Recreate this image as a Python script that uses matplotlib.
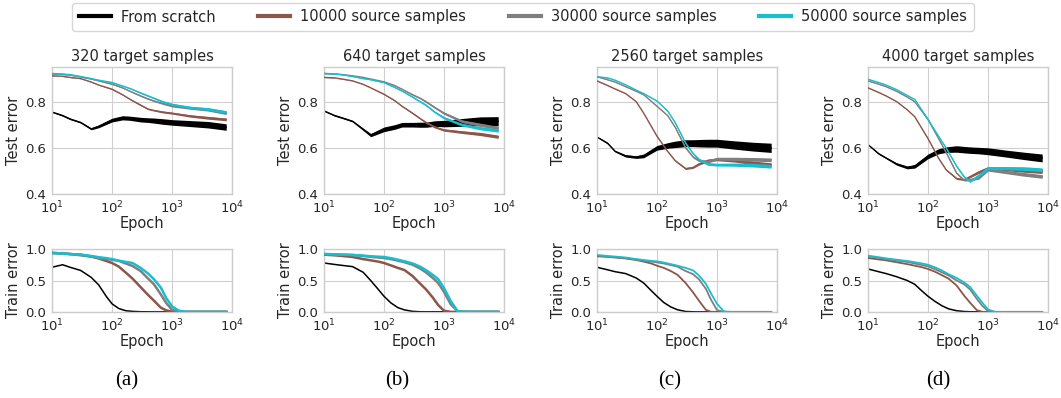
import numpy as np
import matplotlib
matplotlib.use("Agg")
import matplotlib.pyplot as plt
from matplotlib.lines import Line2D

# ---------------- data ----------------
panel_titles = ["320 target samples", "640 target samples", "2560 target samples", "4000 target samples"]
panel_letters = ["(a)", "(b)", "(c)", "(d)"]
series_labels = ["From scratch", "10000 source samples", "30000 source samples", "50000 source samples"]

epochs_test = [10, 15, 20, 30, 45, 60, 100, 150, 200, 300, 400, 500, 700, 1000, 2000, 4000, 8000]

test_320_scratch = [.755, .74, .725, .71, .682, .693, .72, .73, .728, .722, .72, .718, .714, .71, .705, .70, .69]
test_320_10k = [.912, .91, .905, .90, .885, .872, .854, .83, .81, .785, .768, .762, .755, .75, .738, .73, .723]
test_320_30k = [.92, .918, .915, .907, .898, .89, .876, .86, .845, .825, .812, .803, .792, .781, .772, .765, .75]
test_320_50k = [.922, .92, .917, .909, .90, .893, .883, .868, .857, .838, .825, .815, .80, .788, .775, .768, .755]

test_640_scratch = [.76, .74, .73, .715, .68, .655, .68, .69, .70, .70, .70, .70, .705, .705, .71, .715, .715]
test_640_10k = [.905, .903, .898, .89, .875, .86, .832, .805, .78, .75, .727, .71, .69, .677, .668, .66, .648]
test_640_30k = [.922, .92, .917, .912, .905, .898, .886, .87, .854, .83, .815, .80, .775, .75, .715, .70, .686]
test_640_50k = [.922, .92, .917, .909, .90, .895, .883, .862, .846, .82, .80, .785, .755, .73, .70, .685, .675]

test_2560_scratch = [.647, .62, .585, .565, .56, .565, .60, .61, .615, .62, .62, .62, .62, .62, .612, .605, .60]
test_2560_10k = [.89, .87, .855, .835, .80, .75, .65, .585, .545, .51, .515, .53, .545, .55, .545, .535, .527]
test_2560_30k = [.908, .895, .885, .865, .845, .83, .78, .74, .69, .60, .56, .545, .54, .553, .552, .55, .548]
test_2560_50k = [.908, .903, .893, .873, .85, .835, .803, .76, .71, .62, .575, .55, .53, .527, .527, .525, .52]

test_4000_scratch = [.614, .575, .556, .53, .515, .52, .563, .585, .592, .595, .592, .59, .588, .585, .575, .565, .556]
test_4000_10k = [.86, .84, .825, .80, .765, .735, .64, .555, .505, .467, .462, .475, .495, .512, .508, .502, .497]
test_4000_30k = [.89, .876, .865, .845, .82, .80, .723, .64, .58, .49, .46, .462, .47, .505, .495, .485, .476]
test_4000_50k = [.897, .883, .872, .852, .827, .81, .723, .65, .60, .52, .475, .455, .48, .512, .512, .51, .505]

# half-width of the visible noise band of each test curve
noise_scratch_320 = [.002, .003, .003, .003, .004, .006, .008, .009, .009, .010, .010, .011, .012, .012, .013, .014, .014]
noise_scratch_640 = [.002, .003, .003, .003, .005, .007, .010, .010, .010, .010, .011, .011, .012, .014, .017, .019, .02]
noise_scratch_2560 = [.002, .003, .003, .005, .006, .008, .010, .012, .014, .015, .015, .016, .017, .017, .018, .019, .02]
noise_scratch_4000 = [.002, .003, .003, .005, .006, .008, .010, .011, .012, .014, .014, .014, .014, .015, .015, .016, .017]
noise_transfer_320 = [.001, .001, .001, .001, .001, .001, .002, .002, .002, .003, .003, .003, .004, .004, .005, .006, .006]
noise_transfer_640 = [.001, .001, .001, .001, .001, .001, .002, .002, .002, .003, .003, .004, .004, .005, .006, .007, .007]
noise_transfer_2560 = [.001, .001, .001, .001, .001, .001, .002, .002, .003, .004, .004, .005, .006, .006, .007, .008, .008]
noise_transfer_4000 = [.001, .001, .001, .001, .001, .001, .002, .002, .003, .004, .004, .005, .006, .006, .007, .008, .008]

epochs_train = [10, 15, 20, 30, 45, 60, 80, 100, 130, 170, 220, 300, 400, 500, 650, 800, 1000, 1300, 1700, 2500, 8000]

train_320_scratch = [.71, .75, .71, .66, .55, .43, .25, .13, .055, .02, .01, .004, .003, .002, .002, .002, .002, .002, .002, .003, .002]
train_320_10k = [.937, .93, .92, .91, .88, .85, .81, .778, .72, .625, .53, .395, .27, .18, .07, .026, .005, .002, .002, .002, .002]
train_320_30k = [.937, .93, .92, .90, .88, .86, .84, .83, .81, .77, .73, .65, .53, .44, .28, .143, .035, .003, .002, .002, .002]
train_320_50k = [.937, .93, .92, .91, .89, .87, .855, .84, .815, .795, .778, .70, .61, .52, .39, .222, .09, .02, .003, .002, .002]

train_640_scratch = [.778, .755, .74, .72, .63, .50, .36, .25, .145, .07, .033, .01, .004, .003, .003, .003, .003, .003, .003, .003, .003]
train_640_10k = [.91, .90, .89, .873, .84, .82, .80, .778, .74, .70, .665, .57, .45, .36, .23, .11, .02, .002, .002, .002, .002]
train_640_30k = [.92, .915, .91, .905, .89, .875, .865, .857, .84, .815, .79, .75, .69, .63, .54, .46, .32, .12, .01, .002, .002]
train_640_50k = [.92, .915, .91, .905, .895, .885, .878, .873, .855, .83, .805, .77, .72, .665, .59, .52, .38, .17, .01, .003, .002]

train_2560_scratch = [.71, .67, .64, .61, .54, .46, .34, .25, .15, .08, .035, .008, .003, .002, .002, .002, .002, .002, .002, .002, .002]
train_2560_10k = [.884, .875, .865, .85, .825, .80, .77, .735, .70, .65, .59, .46, .31, .18, .035, .003, .002, .002, .002, .002, .002]
train_2560_30k = [.894, .88, .87, .855, .835, .815, .80, .788, .77, .745, .72, .65, .60, .52, .37, .19, .03, .002, .002, .002, .002]
train_2560_50k = [.905, .89, .88, .865, .84, .825, .812, .804, .785, .76, .735, .70, .66, .58, .45, .29, .13, .01, .002, .002, .002]

train_4000_scratch = [.683, .64, .61, .56, .50, .44, .33, .25, .17, .10, .05, .02, .008, .004, .003, .002, .002, .002, .002, .002, .002]
train_4000_10k = [.857, .835, .82, .79, .76, .735, .71, .683, .64, .585, .53, .42, .26, .15, .03, .003, .002, .002, .002, .002, .002]
train_4000_30k = [.884, .86, .84, .815, .795, .77, .745, .725, .68, .63, .58, .50, .44, .36, .21, .10, .015, .002, .002, .002, .002]
train_4000_50k = [.894, .87, .852, .83, .81, .79, .77, .75, .71, .66, .60, .54, .47, .40, .26, .15, .04, .003, .002, .002, .002]

colors = ["black", "#8c564b", "#7f7f7f", "#17becf"]

test_sets = [
    [test_320_scratch, test_320_10k, test_320_30k, test_320_50k],
    [test_640_scratch, test_640_10k, test_640_30k, test_640_50k],
    [test_2560_scratch, test_2560_10k, test_2560_30k, test_2560_50k],
    [test_4000_scratch, test_4000_10k, test_4000_30k, test_4000_50k],
]
noise_scratch = [noise_scratch_320, noise_scratch_640, noise_scratch_2560, noise_scratch_4000]
noise_transfer = [noise_transfer_320, noise_transfer_640, noise_transfer_2560, noise_transfer_4000]
train_sets = [
    [train_320_scratch, train_320_10k, train_320_30k, train_320_50k],
    [train_640_scratch, train_640_10k, train_640_30k, train_640_50k],
    [train_2560_scratch, train_2560_10k, train_2560_30k, train_2560_50k],
    [train_4000_scratch, train_4000_10k, train_4000_30k, train_4000_50k],
]

# ---------------- figure ----------------
plt.rcParams["font.family"] = ["DejaVu Sans"]
W, H = 1061, 398
fig = plt.figure(figsize=(W / 100, H / 100), dpi=100)

lefts_px = [52, 324, 597, 868]
ax_w = 180
test_top, test_bot = 67, 194
train_top, train_bot = 249, 312
caption_x = [127, 397, 670, 938]

GRID = "#d0d0d0"
EDGE = "#cccccc"
TXT = "#262626"


def style(ax):
    ax.set_xscale("log")
    ax.set_xlim(10, 1e4)
    ax.grid(True, color=GRID, linewidth=0.8)
    ax.set_axisbelow(True)
    for s in ax.spines.values():
        s.set_color(EDGE)
        s.set_linewidth(1.0)
    ax.tick_params(axis="both", which="both", length=0, labelsize=9.5, colors=TXT)
    ax.tick_params(axis="y", pad=4)
    ax.tick_params(axis="x", pad=4)
    ax.minorticks_off()
    ax.set_xticks([10, 100, 1000, 10000])
    ax.set_xlabel("Epoch", fontsize=10.5, color=TXT, labelpad=0)


for i in range(4):
    l = lefts_px[i] / W
    w = ax_w / W
    ax = fig.add_axes([l, 1 - test_bot / H, w, (test_bot - test_top) / H])
    style(ax)
    ax.set_ylim(0.4, 0.95)
    ax.set_yticks([0.4, 0.6, 0.8])
    ax.set_ylabel("Test error", fontsize=10.5, color=TXT, labelpad=3)
    ax.set_title(panel_titles[i], fontsize=10.5, color=TXT, pad=4)
    x = np.array(epochs_test, dtype=float)
    for j in range(4):
        y = np.array(test_sets[i][j])
        spread = np.array(noise_scratch[i] if j == 0 else noise_transfer[i])
        ax.fill_between(x, y - spread, y + spread, color=colors[j], linewidth=0, zorder=2 + j)
        ax.plot(x, y, color=colors[j], linewidth=1.0, zorder=2 + j)

    ax2 = fig.add_axes([l, 1 - train_bot / H, w, (train_bot - train_top) / H])
    style(ax2)
    ax2.set_ylim(0, 1.0)
    ax2.set_yticks([0.0, 0.5, 1.0])
    ax2.set_ylabel("Train error", fontsize=10.5, color=TXT, labelpad=3)
    xt = np.array(epochs_train, dtype=float)
    for j in range(4):
        lw = 1.1 if j == 0 else (1.8 if i < 2 else 1.3)
        ax2.plot(xt, train_sets[i][j], color=colors[j], linewidth=lw, zorder=2 + j)

    fig.text(caption_x[i] / W, 1 - 381 / H, panel_letters[i], ha="center", va="center",
             fontsize=15, family=["Liberation Serif", "DejaVu Serif"], color="black")

handles = [Line2D([], [], color=c, linewidth=3) for c in colors]
leg = fig.legend(handles, series_labels, loc="center", bbox_to_anchor=(523 / W, 1 - 17 / H),
                 ncol=4, fontsize=10.5, frameon=True, handlelength=2.2, columnspacing=2.9,
                 borderpad=0.45, handletextpad=0.7)
leg.get_frame().set_edgecolor("#cccccc")
for t in leg.get_texts():
    t.set_color(TXT)

fig.savefig("out.png", dpi=100)
